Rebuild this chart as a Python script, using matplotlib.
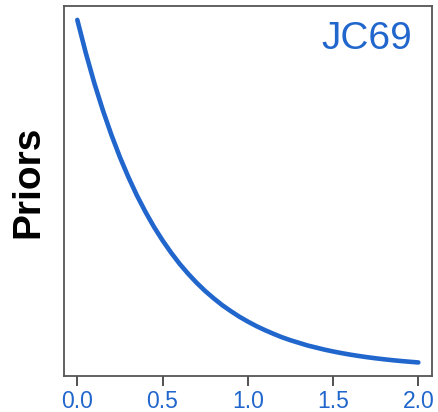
import matplotlib
matplotlib.use("Agg")
import matplotlib.pyplot as plt

plt.rcParams['font.family'] = ['Liberation Sans', 'DejaVu Sans']

# Branch length values (x) and prior density values (y)
x_vals = [0.00, 0.05, 0.10, 0.15, 0.20, 0.25, 0.30, 0.35, 0.40, 0.45,
          0.50, 0.55, 0.60, 0.65, 0.70, 0.75, 0.80, 0.85, 0.90, 0.95,
          1.00, 1.05, 1.10, 1.15, 1.20, 1.25, 1.30, 1.35, 1.40, 1.45,
          1.50, 1.55, 1.60, 1.65, 1.70, 1.75, 1.80, 1.85, 1.90, 1.95, 2.00]
prior_vals = [2.000, 1.810, 1.637, 1.482, 1.341, 1.213, 1.098, 0.993, 0.899, 0.813,
              0.736, 0.666, 0.602, 0.545, 0.493, 0.446, 0.404, 0.365, 0.331, 0.299,
              0.271, 0.245, 0.222, 0.201, 0.181, 0.164, 0.149, 0.134, 0.122, 0.110,
              0.0996, 0.0901, 0.0815, 0.0738, 0.0667, 0.0604, 0.0546, 0.0494, 0.0447, 0.0405, 0.0366]
x_ticks = [0.0, 0.5, 1.0, 1.5, 2.0]
x_tick_labels = ["0.0", "0.5", "1.0", "1.5", "2.0"]
model_name = "JC69"
y_label = "Priors"

blue = "#2166CC"

fig = plt.figure(figsize=(4.39, 4.12), dpi=100)
ax = fig.add_axes([0.145, 0.087, 0.839, 0.898])
ax.plot(x_vals, prior_vals, color=blue, lw=3.3, solid_capstyle='round')

xr = max(x_vals) - min(x_vals)
yr = max(prior_vals) - min(prior_vals)
ax.set_xlim(min(x_vals) - 0.04 * xr, max(x_vals) + 0.04 * xr)
ax.set_ylim(min(prior_vals) - 0.04 * yr, max(prior_vals) + 0.04 * yr)

ax.set_xticks(x_ticks)
ax.set_xticklabels(x_tick_labels)
ax.set_yticks([])
ax.tick_params(axis='x', length=7, width=1.2, color='#333333', labelcolor=blue,
               labelsize=16.5, pad=3)
for s in ax.spines.values():
    s.set_color('#555555')
    s.set_linewidth(1.3)

ax.set_ylabel(y_label, fontsize=28, fontweight='bold')
ax.yaxis.set_label_coords(-0.047, 0.525)
ax.text(0.946, 0.96, model_name, transform=ax.transAxes, ha='right', va='top',
        color=blue, fontsize=28)

fig.savefig("out.png", dpi=100)
